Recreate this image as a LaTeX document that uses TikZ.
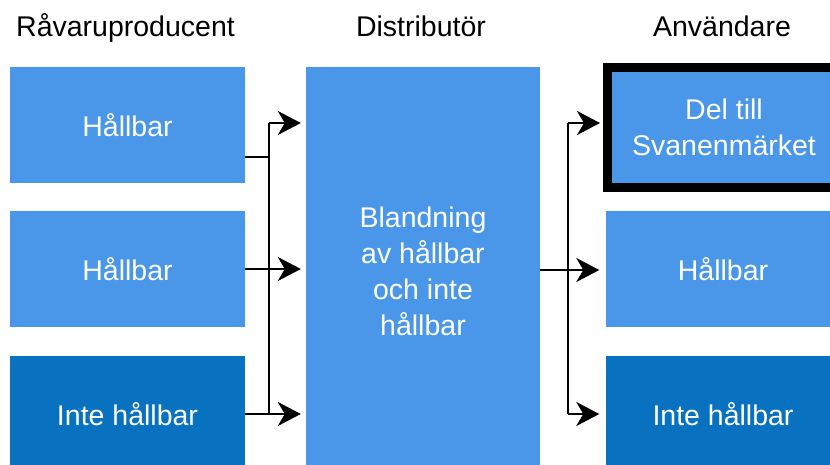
\documentclass[tikz,border=0pt]{standalone}
\usepackage{fontspec}
\setmainfont{Liberation Sans}
\usetikzlibrary{arrows.meta}
\definecolor{lightblue}{RGB}{74,151,233}
\definecolor{darkblue}{RGB}{8,114,193}
\begin{document}
\begin{tikzpicture}[x=1pt,y=-1pt,
  boxtext/.style={font=\fontsize{28.5}{36}\selectfont, text=white, align=center, inner sep=0pt, anchor=center},
  lbox/.style={boxtext, fill=lightblue, minimum width=235pt, minimum height=116pt},
  dbox/.style={boxtext, fill=darkblue, minimum width=235pt, minimum height=116pt},
  header/.style={font=\fontsize{28.5}{34}\selectfont, anchor=base, inner sep=0pt},
  conn/.style={line width=2pt, black},
  arr/.style={conn, -{Stealth[length=23pt, width=24pt, inset=7pt]}}
]
\clip (0,0) rectangle (830,465);
\fill[white] (0,0) rectangle (830,465);
% headers
\node[header] (h1) at (125.5,37) {Råvaruproducent};
\node[header] (h2) at (421,37) {Distributör};
\node[header] (h3) at (722,37) {Användare};
% left boxes
\node[lbox] (L1) at (127.5,125) {Hållbar};
\node[lbox] (L2) at (127.5,269) {Hållbar};
\node[dbox] (L3) at (127.5,414) {Inte hållbar};
% middle
\node[lbox, minimum width=234pt, minimum height=408pt] (M) at (423,271) {};
\node[boxtext] (Mt) at (423,271) {Blandning\\av hållbar\\och inte\\hållbar};
% right boxes
\node[lbox, minimum width=233pt, minimum height=120pt, draw=black, line width=9pt] (R1) at (724,127.5) {Del till\\Svanenmärket};
\node[lbox] (R2) at (723,269) {Hållbar};
\node[dbox] (R3) at (723,414) {Inte hållbar};
% left connectors
\coordinate (jl) at (269,157);
\coordinate (jt) at (269,123);
\coordinate (jb) at (269,415);
\draw[conn] ([yshift=-32pt]L1.east) -- (jl);
\draw[conn] (jt) -- (jb);
\draw[arr, shorten >=5pt] (jt) -- (jt -| M.west);
\draw[arr, shorten >=5pt] (L2.east) -- (L2.east -| M.west);
\draw[arr, shorten >=5pt] (L3.east) -- (L3.east -| M.west);
% right connectors
\coordinate (jr) at (568,270);
\coordinate (rt) at (568,123);
\coordinate (rb) at (568,414);
\draw[conn] (rt) -- (rb);
\draw[arr, shorten >=6pt] (M.east |- jr) -- (jr -| R2.west);
\draw[arr] (rt) -- (600,123);
\draw[arr, shorten >=6pt] (rb) -- (rb -| R3.west);
\end{tikzpicture}
\end{document}
